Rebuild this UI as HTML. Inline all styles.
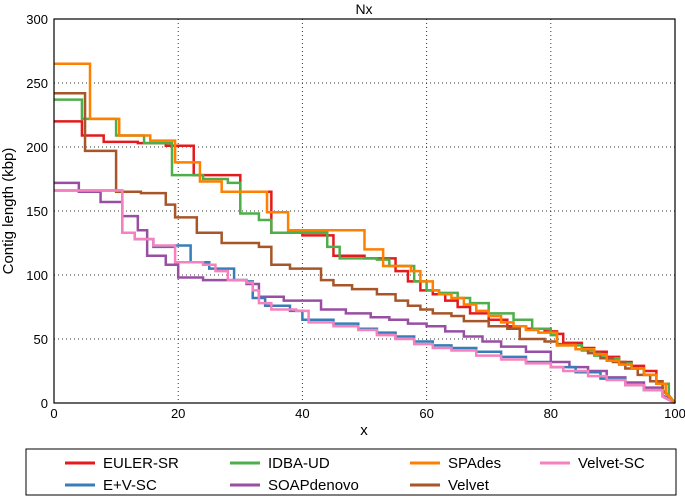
<!DOCTYPE html>
<html><head><meta charset="utf-8"><style>
body{margin:0;background:#fff;}
svg{display:block;font-family:"Liberation Sans","DejaVu Sans",sans-serif;}
</style></head><body>
<svg id="s" width="685" height="502" xmlns="http://www.w3.org/2000/svg">
<rect width="685" height="502" fill="#fff"/>
<g id="grid" stroke="#000" stroke-width="1" stroke-dasharray="1,3" opacity="0.8"></g>
<g id="series" fill="none" stroke-width="2.5" stroke-linejoin="miter"></g>
<rect x="54" y="19" width="621" height="384" fill="none" stroke="#000" stroke-width="1.2"/>
<g id="ticks" font-size="13" fill="#000"></g>
<text x="364" y="14" font-size="14" text-anchor="middle">Nx</text>
<text x="364" y="435" font-size="15" text-anchor="middle">x</text>
<text transform="translate(13,211) rotate(-90)" font-size="15" text-anchor="middle">Contig length  (kbp)</text>
<rect x="26" y="449" width="650" height="46" fill="#fff" stroke="#000" stroke-width="1"/>
<g id="legend" font-size="15"></g>
</svg>
<script>
const X=x=>54+6.21*x, Y=y=>403-1.28*y;
const ns="http://www.w3.org/2000/svg";
function el(p,t,a,txt){const e=document.createElementNS(ns,t);for(const k in a)e.setAttribute(k,a[k]);if(txt!==undefined)e.textContent=txt;document.getElementById(p).appendChild(e);}
for(let i=1;i<5;i++){el("grid","line",{x1:X(i*20),x2:X(i*20),y1:19,y2:403});}
for(let i=1;i<6;i++){el("grid","line",{x1:54,x2:675,y1:Y(i*50),y2:Y(i*50)});}
for(let i=0;i<=5;i++){el("ticks","text",{x:X(i*20),y:418,"text-anchor":"middle"},String(i*20));}
for(let i=0;i<=6;i++){el("ticks","text",{x:48,y:Y(i*50)+5,"text-anchor":"end"},String(i*50));}
const S={
"#e41a1c":[[0,220],[4.5,209],[8,204],[13.5,203],[18,201],[22.5,178],[30,165],[35,133],[40,131],[45,115],[50,113],[55,103],[57,95],[59,88],[61,85],[63,80],[65,75],[67,70],[70,65],[73,60],[76,58],[79,56],[81,54],[82,47],[85,43],[87,40],[89,36],[91,32],[93,29],[95,25],[97,15],[99,6]],
"#4daf4a":[[0,237],[4.5,222],[10,209],[14.5,203],[19,178],[24,175],[28,172],[30,148],[33,143],[35,133],[44,122],[46,113],[52,112],[54,107],[58,95],[60,88],[62,86],[65,82],[67,78],[70,70],[74,65],[77,58],[80,53],[81,45],[85,41],[87,37],[89,35],[91,31],[93,27],[95,22],[97,15],[99,6]],
"#984ea3":[[0,172],[4,165],[7.5,157],[11,146],[13.5,135],[15,115],[18,108],[20,98],[24,96],[31,93],[33,83],[37,80],[40,80],[43,73],[47,70],[51,67],[54,65],[57,62],[60,60],[63,56],[66,52],[69,48],[72,44],[76,40],[80,32],[83,28],[86,25],[89,20],[92,16],[95,12],[98,6]],
"#377eb8":[[0,166],[11,133],[13,128],[16,122],[19.5,123],[22,110],[25,105],[29,96],[31,95],[32,82],[34,76],[38,72],[40,65],[45,62],[49,58],[52,55],[55,52],[58,48],[61,45],[64,43],[68,40],[72,36],[76,32],[80,28],[84,24],[88,19],[92,14],[95,10],[98,5]],
"#a65628":[[0,242],[5,197],[10,165],[14,164],[18,155],[19.5,145],[23,133],[27,125],[33,122],[35,108],[38,105],[43,96],[45,92],[48,89],[52,85],[55,80],[57,76],[59,73],[61,70],[64,68],[66,64],[70,60],[73,58],[75,50],[79,48],[81,46],[84,42],[86,39],[88,35],[90,32],[92,27],[94,22],[96,17],[98,10]],
"#f781bf":[[0,166],[11,133],[13,128],[16,123],[19.5,110],[24,108],[26,103],[28,96],[31,94],[32,88],[33,78],[35,73],[39,72],[41,63],[45,60],[49,57],[52,53],[55,50],[58,46],[61,43],[64,41],[68,37],[72,34],[76,31],[80,28],[82,25],[86,21],[89,18],[92,14],[95,10],[98,5]],
"#ff7f00":[[0,265],[5.8,222],[10.5,209],[15.5,205],[19.5,188],[23.5,173],[27,165],[34.3,149],[37.7,135],[50,120],[53,107],[57.5,103],[59,95],[61,88],[62,85],[64,82],[66,77],[68,72],[70,68],[72,63],[74,60],[76,57],[78,55],[81,45],[84,42],[87,38],[89,33],[91,30],[93,27],[95,22],[97,15],[98.5,8]]
};
for(const c in S){const a=S[c];let d="M"+X(a[0][0])+","+Y(a[0][1]);
for(let i=1;i<a.length;i++){d+=" H"+X(a[i][0])+" V"+Y(a[i][1]);}
d+=" L"+X(100)+","+Y(0);el("series","path",{d:d,stroke:c});}
const L=[["EULER-SR","#e41a1c",65,463],["E+V-SC","#377eb8",65,485],["IDBA-UD","#4daf4a",230,463],["SOAPdenovo","#984ea3",230,485],["SPAdes","#ff7f00",410,463],["Velvet","#a65628",410,485],["Velvet-SC","#f781bf",540,463]];
for(const [t,c,x,y] of L){el("legend","line",{x1:x,x2:x+30,y1:y,y2:y,stroke:c,"stroke-width":3});el("legend","text",{x:x+38,y:y+5},t);}
</script>
</body></html>
